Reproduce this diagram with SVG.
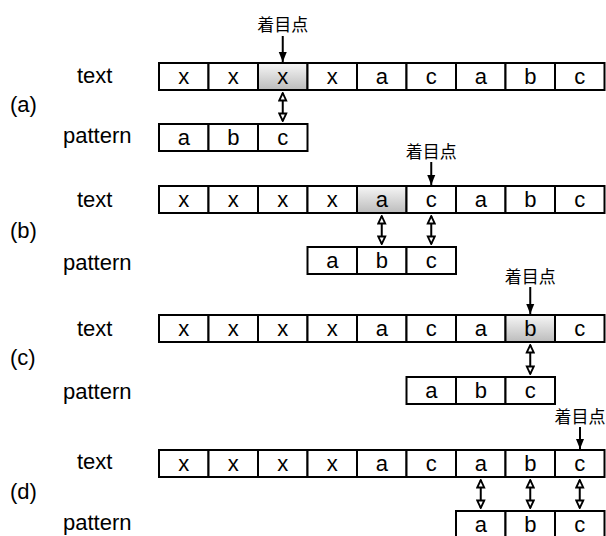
<svg xmlns="http://www.w3.org/2000/svg" width="606" height="536" viewBox="0 0 606 536">
<style>
.cell{fill:#fff;stroke:#000;stroke-width:2}
.hl{fill:url(#g);stroke:#000;stroke-width:2}
.ct{font-family:"Liberation Sans",Arial,sans-serif;font-size:22px;text-anchor:middle;fill:#000}
.lb{font-family:"Liberation Sans",Arial,sans-serif;font-size:22px;fill:#000}
.jp{font-family:"Liberation Sans","Noto Sans CJK JP",sans-serif;font-size:17px;text-anchor:middle;fill:#000}
.ar{stroke:#000;stroke-width:2;fill:none;marker-end:url(#solid)}
.dar{stroke:#000;stroke-width:2;fill:none;marker-start:url(#open);marker-end:url(#open)}
</style>
<defs>
<linearGradient id="g" x1="0" y1="0" x2="0" y2="1">
<stop offset="0" stop-color="#f6f6f6"/>
<stop offset="1" stop-color="#bcbcbc"/>
</linearGradient>
<marker id="solid" viewBox="0 0 10 10" refX="10" refY="5" markerWidth="10" markerHeight="10" markerUnits="userSpaceOnUse" orient="auto">
<path d="M0,1 L10,5 L0,9 Z" fill="#000"/>
</marker>
<marker id="open" viewBox="0 0 10 10" refX="9" refY="5" markerWidth="10" markerHeight="10" markerUnits="userSpaceOnUse" orient="auto-start-reverse">
<path d="M1.5,1.5 L9,5 L1.5,8.5 Z" fill="#fff" stroke="#000" stroke-width="1.8" stroke-linejoin="miter"/>
</marker>
</defs>

<!-- labels -->
<g id="labels">
<text class="lb" x="77" y="83">text</text>
<text class="lb" x="10" y="112">(a)</text>
<text class="lb" x="63" y="143">pattern</text>
<text class="lb" x="77" y="207">text</text>
<text class="lb" x="10" y="238">(b)</text>
<text class="lb" x="63" y="270">pattern</text>
<text class="lb" x="77" y="336">text</text>
<text class="lb" x="10" y="365">(c)</text>
<text class="lb" x="63" y="399">pattern</text>
<text class="lb" x="77" y="469">text</text>
<text class="lb" x="10" y="499">(d)</text>
<text class="lb" x="63" y="530">pattern</text>
</g>

<!-- (a) -->
<g id="text-a">
<rect class="cell" x="159" y="63" width="49.5" height="27"/><text class="ct" x="183.75" y="84">x</text>
<rect class="cell" x="208.5" y="63" width="49.5" height="27"/><text class="ct" x="233.25" y="84">x</text>
<rect class="hl" x="258" y="63" width="49.5" height="27"/><text class="ct" x="282.75" y="84">x</text>
<rect class="cell" x="307.5" y="63" width="49.5" height="27"/><text class="ct" x="332.25" y="84">x</text>
<rect class="cell" x="357" y="63" width="49.5" height="27"/><text class="ct" x="381.75" y="84">a</text>
<rect class="cell" x="406.5" y="63" width="49.5" height="27"/><text class="ct" x="431.25" y="84">c</text>
<rect class="cell" x="456" y="63" width="49.5" height="27"/><text class="ct" x="480.75" y="84">a</text>
<rect class="cell" x="505.5" y="63" width="49.5" height="27"/><text class="ct" x="530.25" y="84">b</text>
<rect class="cell" x="555" y="63" width="49.5" height="27"/><text class="ct" x="579.75" y="84">c</text>
</g>
<g id="pattern-a">
<rect class="cell" x="159" y="124" width="49.5" height="27"/><text class="ct" x="183.75" y="145">a</text>
<rect class="cell" x="208.5" y="124" width="49.5" height="27"/><text class="ct" x="233.25" y="145">b</text>
<rect class="cell" x="258" y="124" width="49.5" height="27"/><text class="ct" x="282.75" y="145">c</text>
</g>
<g id="focus-a"><text class="jp" x="282.75" y="31">着目点</text></g>

<!-- (b) -->
<g id="text-b">
<rect class="cell" x="159" y="186" width="49.5" height="27"/><text class="ct" x="183.75" y="207">x</text>
<rect class="cell" x="208.5" y="186" width="49.5" height="27"/><text class="ct" x="233.25" y="207">x</text>
<rect class="cell" x="258" y="186" width="49.5" height="27"/><text class="ct" x="282.75" y="207">x</text>
<rect class="cell" x="307.5" y="186" width="49.5" height="27"/><text class="ct" x="332.25" y="207">x</text>
<rect class="hl" x="357" y="186" width="49.5" height="27"/><text class="ct" x="381.75" y="207">a</text>
<rect class="cell" x="406.5" y="186" width="49.5" height="27"/><text class="ct" x="431.25" y="207">c</text>
<rect class="cell" x="456" y="186" width="49.5" height="27"/><text class="ct" x="480.75" y="207">a</text>
<rect class="cell" x="505.5" y="186" width="49.5" height="27"/><text class="ct" x="530.25" y="207">b</text>
<rect class="cell" x="555" y="186" width="49.5" height="27"/><text class="ct" x="579.75" y="207">c</text>
</g>
<g id="pattern-b">
<rect class="cell" x="307.5" y="247" width="49.5" height="27"/><text class="ct" x="332.25" y="268">a</text>
<rect class="cell" x="357" y="247" width="49.5" height="27"/><text class="ct" x="381.75" y="268">b</text>
<rect class="cell" x="406.5" y="247" width="49.5" height="27"/><text class="ct" x="431.25" y="268">c</text>
</g>
<g id="focus-b"><text class="jp" x="431.25" y="158">着目点</text></g>

<!-- (c) -->
<g id="text-c">
<rect class="cell" x="159" y="315" width="49.5" height="27"/><text class="ct" x="183.75" y="336">x</text>
<rect class="cell" x="208.5" y="315" width="49.5" height="27"/><text class="ct" x="233.25" y="336">x</text>
<rect class="cell" x="258" y="315" width="49.5" height="27"/><text class="ct" x="282.75" y="336">x</text>
<rect class="cell" x="307.5" y="315" width="49.5" height="27"/><text class="ct" x="332.25" y="336">x</text>
<rect class="cell" x="357" y="315" width="49.5" height="27"/><text class="ct" x="381.75" y="336">a</text>
<rect class="cell" x="406.5" y="315" width="49.5" height="27"/><text class="ct" x="431.25" y="336">c</text>
<rect class="cell" x="456" y="315" width="49.5" height="27"/><text class="ct" x="480.75" y="336">a</text>
<rect class="hl" x="505.5" y="315" width="49.5" height="27"/><text class="ct" x="530.25" y="336">b</text>
<rect class="cell" x="555" y="315" width="49.5" height="27"/><text class="ct" x="579.75" y="336">c</text>
</g>
<g id="pattern-c">
<rect class="cell" x="406.5" y="377" width="49.5" height="27"/><text class="ct" x="431.25" y="398">a</text>
<rect class="cell" x="456" y="377" width="49.5" height="27"/><text class="ct" x="480.75" y="398">b</text>
<rect class="cell" x="505.5" y="377" width="49.5" height="27"/><text class="ct" x="530.25" y="398">c</text>
</g>
<g id="focus-c"><text class="jp" x="530.25" y="283">着目点</text></g>

<!-- (d) -->
<g id="text-d">
<rect class="cell" x="159" y="450" width="49.5" height="27"/><text class="ct" x="183.75" y="471">x</text>
<rect class="cell" x="208.5" y="450" width="49.5" height="27"/><text class="ct" x="233.25" y="471">x</text>
<rect class="cell" x="258" y="450" width="49.5" height="27"/><text class="ct" x="282.75" y="471">x</text>
<rect class="cell" x="307.5" y="450" width="49.5" height="27"/><text class="ct" x="332.25" y="471">x</text>
<rect class="cell" x="357" y="450" width="49.5" height="27"/><text class="ct" x="381.75" y="471">a</text>
<rect class="cell" x="406.5" y="450" width="49.5" height="27"/><text class="ct" x="431.25" y="471">c</text>
<rect class="cell" x="456" y="450" width="49.5" height="27"/><text class="ct" x="480.75" y="471">a</text>
<rect class="cell" x="505.5" y="450" width="49.5" height="27"/><text class="ct" x="530.25" y="471">b</text>
<rect class="cell" x="555" y="450" width="49.5" height="27"/><text class="ct" x="579.75" y="471">c</text>
</g>
<g id="pattern-d">
<rect class="cell" x="456" y="511" width="49.5" height="27"/><text class="ct" x="480.75" y="532">a</text>
<rect class="cell" x="505.5" y="511" width="49.5" height="27"/><text class="ct" x="530.25" y="532">b</text>
<rect class="cell" x="555" y="511" width="49.5" height="27"/><text class="ct" x="579.75" y="532">c</text>
</g>
<g id="focus-d"><text class="jp" x="580" y="423">着目点</text></g>

<g id="connectors">
<line class="ar" x1="282.75" y1="36" x2="282.75" y2="62"/>
<line class="ar" x1="431.25" y1="162" x2="431.25" y2="185"/>
<line class="ar" x1="530.25" y1="287" x2="530.25" y2="314"/>
<line class="ar" x1="580" y1="427" x2="580" y2="449"/>
<line class="dar" x1="282.75" y1="93" x2="282.75" y2="121"/>
<line class="dar" x1="381.75" y1="216" x2="381.75" y2="244"/>
<line class="dar" x1="431.25" y1="216" x2="431.25" y2="244"/>
<line class="dar" x1="530.25" y1="345" x2="530.25" y2="374"/>
<line class="dar" x1="480.75" y1="480" x2="480.75" y2="508"/>
<line class="dar" x1="530.25" y1="480" x2="530.25" y2="508"/>
<line class="dar" x1="579.75" y1="480" x2="579.75" y2="508"/>
</g>
</svg>
